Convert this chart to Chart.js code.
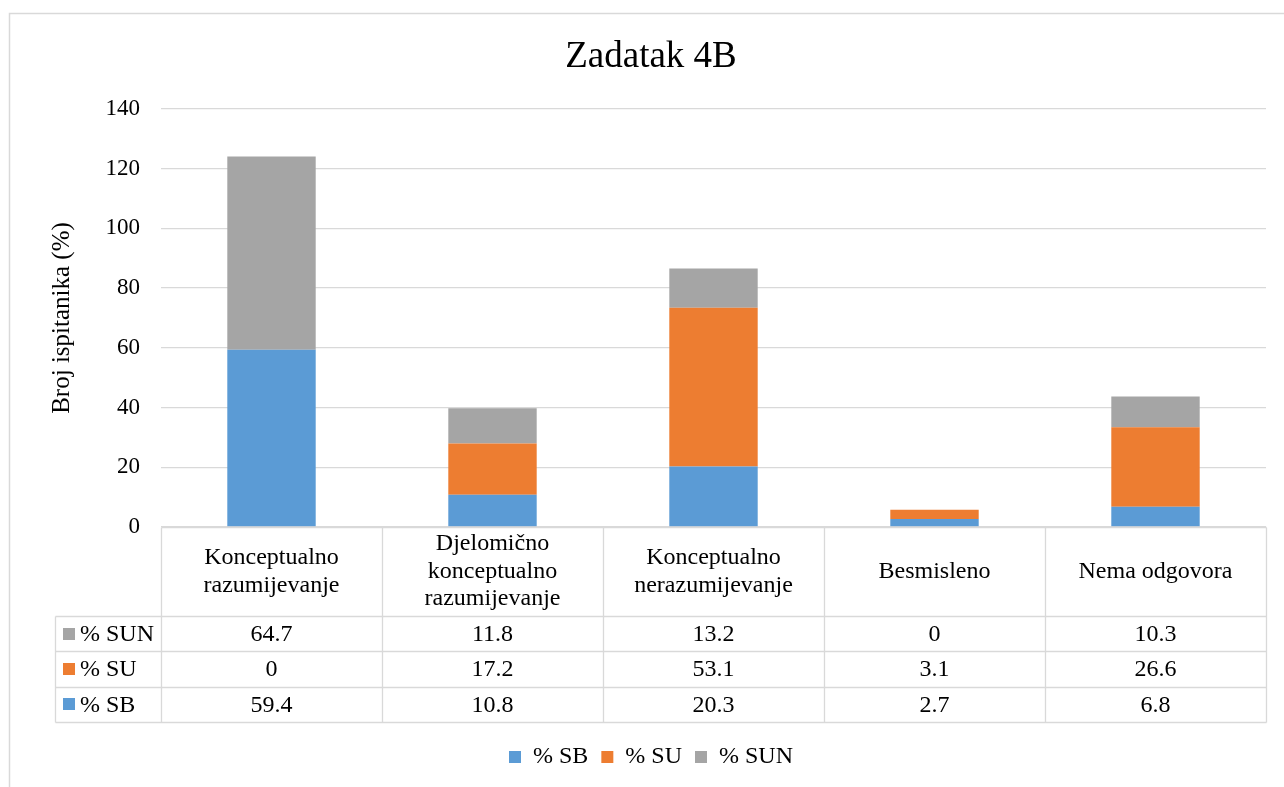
<!DOCTYPE html>
<html><head><meta charset="utf-8">
<script src="https://cdn.jsdelivr.net/npm/chart.js@4/dist/chart.umd.min.js"></script>
<style>html,body{margin:0;padding:0;background:#fff;overflow:hidden}canvas{display:block}</style>
</head><body>
<canvas id="c" width="1284" height="787"></canvas>
<script>
const categories = [['Konceptualno','razumijevanje'],['Djelomično','konceptualno','razumijevanje'],['Konceptualno','nerazumijevanje'],['Besmisleno'],['Nema odgovora']];
const seriesNames = ['% SB','% SU','% SUN'];
const sb = [59.4,10.8,20.3,2.7,6.8];
const su = [0,17.2,53.1,3.1,26.6];
const sun = [64.7,11.8,13.2,0,10.3];
const yMin = 0, yMax = 140, yStep = 20;
const titleText = 'Zadatak 4B';
const yTitle = 'Broj ispitanika (%)';
const colors = ['#5B9BD5','#ED7D31','#A5A5A5'];
const FONT = "'Liberation Serif','Times New Roman',serif";
const GRID = '#d9d9d9';

const frame = {
  id:'frame',
  beforeDraw(chart){
    const ctx = chart.ctx;
    ctx.save();
    ctx.fillStyle = '#fff';
    ctx.fillRect(0,0,chart.width,chart.height);
    ctx.strokeStyle = GRID; ctx.lineWidth = 1.5;
    ctx.strokeRect(9.5,13.5,chart.width+20,chart.height+20);
    ctx.restore();
  }
};

const dataTable = {
  id:'dataTable',
  afterDraw(chart){
    const ctx = chart.ctx, xs = chart.scales.x, area = chart.chartArea;
    const n = chart.data.labels.length;
    const colW = (xs.right - xs.left)/n;
    const top = area.bottom;
    const headerBottom = top + 89;
    const rowH = 35.3;
    const ds = chart.data.datasets.slice().reverse();
    const tableBottom = headerBottom + rowH*ds.length;
    const tableLeft = 55;
    const px = v => Math.round(v)+0.5;
    ctx.save();
    ctx.strokeStyle = GRID; ctx.lineWidth = 1.3;
    ctx.beginPath();
    ctx.moveTo(px(xs.left), px(top)); ctx.lineTo(px(xs.right), px(top));
    for (let r=0;r<=ds.length;r++){
      const y = px(headerBottom + r*rowH);
      ctx.moveTo(px(tableLeft), y); ctx.lineTo(px(xs.right), y);
    }
    for (let i=0;i<=n;i++){
      const x = px(xs.left + i*colW);
      ctx.moveTo(x, px(top)); ctx.lineTo(x, px(tableBottom));
    }
    ctx.moveTo(px(tableLeft), px(headerBottom)); ctx.lineTo(px(tableLeft), px(tableBottom));
    ctx.stroke();

    ctx.fillStyle = '#000';
    ctx.font = '24px ' + FONT;
    ctx.textAlign = 'center'; ctx.textBaseline = 'middle';
    const lh = 27.5;
    chart.data.labels.forEach((lab,i)=>{
      const cx = xs.getPixelForValue(i);
      const lines = Array.isArray(lab)?lab:[lab];
      const cy = (top+headerBottom)/2;
      lines.forEach((t,k)=>{
        ctx.fillText(t, cx, cy + (k - (lines.length-1)/2)*lh);
      });
    });
    ds.forEach((d,r)=>{
      const cy = headerBottom + r*rowH + rowH/2;
      ctx.fillStyle = d.backgroundColor;
      ctx.fillRect(63, Math.round(cy-6), 12, 12);
      ctx.fillStyle = '#000';
      ctx.textAlign = 'left';
      ctx.fillText(d.label, 80, cy+1);
      ctx.textAlign = 'center';
      d.data.forEach((v,i)=>{
        ctx.fillText(String(v), xs.getPixelForValue(i), cy+1);
      });
    });
    ctx.restore();
  }
};

new Chart(document.getElementById('c'), {
  type:'bar',
  data:{
    labels: categories,
    datasets:[
      {label:seriesNames[0], data:sb, backgroundColor:colors[0]},
      {label:seriesNames[1], data:su, backgroundColor:colors[1]},
      {label:seriesNames[2], data:sun, backgroundColor:colors[2]}
    ]
  },
  options:{
    responsive:false, animation:false,
    layout:{padding:{left:18,right:0,top:0,bottom:8}},
    datasets:{bar:{categoryPercentage:1, barPercentage:0.4, borderWidth:0}},
    plugins:{
      title:{display:true, text:titleText, color:'#000', font:{family:FONT, size:37, weight:'normal'}, padding:{top:34.8,bottom:29.8}},
      legend:{display:true, position:'bottom', labels:{boxWidth:12, boxHeight:12, padding:13, color:'#000', font:{family:FONT,size:24}}},
      tooltip:{enabled:false}
    },
    scales:{
      x:{stacked:true, ticks:{display:false}, grid:{display:false}, border:{display:false},
         afterFit(s){ s.height = 205; }},
      y:{stacked:true, min:yMin, max:yMax,
         ticks:{stepSize:yStep, padding:21, color:'#000', font:{family:FONT,size:23}},
         grid:{color:GRID, lineWidth:1.3, drawTicks:false},
         border:{display:false},
         title:{display:true, text:yTitle, color:'#000', font:{family:FONT,size:25}, padding:{top:29,bottom:0}},
         afterFit(s){ s.width = 143; }},
      yRight:{type:'linear', position:'right', display:true, min:yMin, max:yMax,
         ticks:{display:false}, grid:{display:false}, border:{display:false},
         afterFit(s){ s.width = 18; }}
    }
  },
  plugins:[frame, dataTable]
});
</script>
</body></html>
